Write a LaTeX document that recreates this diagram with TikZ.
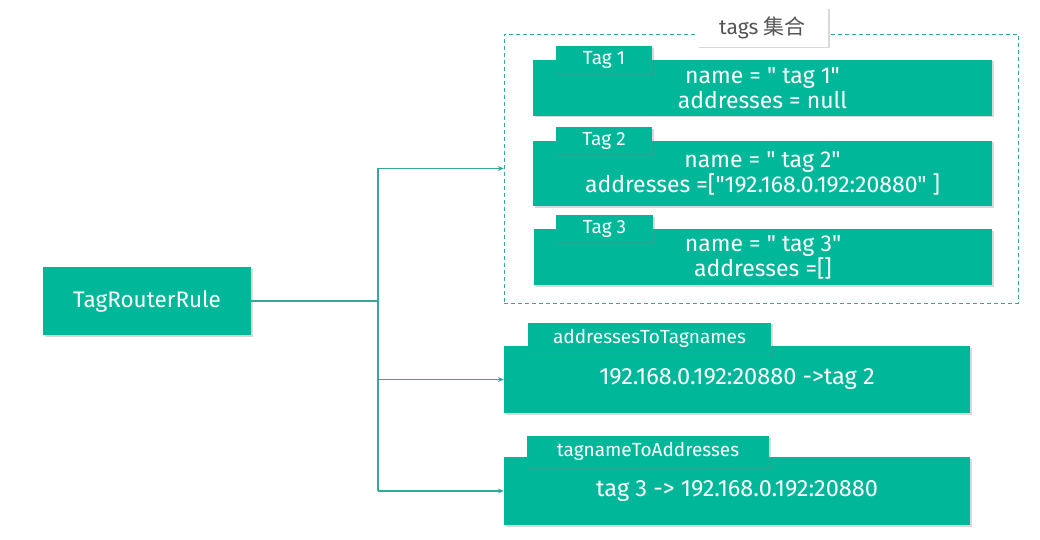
\documentclass[tikz,border=0pt]{standalone}
\usepackage{fontspec}
\setmainfont{Fira Sans}[Ligatures=TeXOff]
\newfontfamily\cjk{Noto Sans CJK SC}
\usepackage{xcolor}
\usepackage{tikz}
\usetikzlibrary{arrows.meta,positioning,shadows}
\definecolor{RuleTeal}{HTML}{00B899}
\definecolor{LinkTeal}{HTML}{35A898}
\definecolor{TitleGray}{HTML}{555555}

\begin{document}
\begin{tikzpicture}[
  x=1pt, y=-1pt,
  box/.style={fill=RuleTeal, text=white, align=center, inner sep=0pt,
    font=\fontsize{23}{25}\selectfont,
    drop shadow={shadow xshift=1.5pt, shadow yshift=-1.5pt, opacity=0.3}},
  mapbox/.style={box, minimum width=466pt, font=\fontsize{23.5}{26}\selectfont},
  tab/.style={box, anchor=west, minimum height=27pt, font=\fontsize{19}{21}\selectfont},
  title/.style={fill=white, text=TitleGray, minimum width=131pt, minimum height=39pt,
    font=\fontsize{21}{23}\selectfont,
    drop shadow={shadow xshift=1.5pt, shadow yshift=-1.5pt, opacity=0.3}},
  group/.style={draw=LinkTeal, dashed, dash pattern=on 4pt off 3pt, thin},
  link/.style={draw=LinkTeal, line width=1.3pt},
  arrow/.style={link, -{Stealth[length=6pt, width=5pt]}}
]
\useasboundingbox (0,0) rectangle (1040,540);

% tags set
\node[group, minimum width=514pt, minimum height=269pt] (tagset) at (761,168.5) {};
\node[title] (settitle) at (762.5,27.5) {tags {\cjk 集合}};

\node[box, minimum width=459pt, minimum height=56pt] (tag1) at (762.5,88) {name = " tag 1"\\addresses = null};
\node[tab, minimum width=96pt] (tab1) at ([xshift=23pt]tag1.north west) {Tag 1};

\node[box, minimum width=459pt, minimum height=65pt] (tag2) at (762.5,173.5) {name = " tag 2"\\addresses =["192.168.0.192:20880" ]};
\node[tab, minimum width=96pt] (tab2) at ([xshift=23pt]tag2.north west) {Tag 2};

\node[box, minimum width=458pt, minimum height=56pt] (tag3) at (763,257) {name = " tag 3"\\addresses =[]};
\node[tab, minimum width=97pt] (tab3) at ([xshift=22pt]tag3.north west) {Tag 3};

% maps
\node[mapbox, minimum height=67pt] (addrmap) at (737,379.5) {192.168.0.192:20880 ->tag 2};
\node[tab, minimum width=243pt, minimum height=32pt] (addrtab) at ([xshift=24pt,yshift=7pt]addrmap.north west) {addressesToTagnames};

\node[mapbox, minimum height=68pt] (tagmap) at (737,491) {tag 3 -> 192.168.0.192:20880};
\node[tab, minimum width=242pt, minimum height=31pt] (tagtab) at ([xshift=23pt,yshift=5pt]tagmap.north west) {tagnameToAddresses};

% rule
\node[box, minimum width=208pt, minimum height=68pt, font=\fontsize{22.5}{25}\selectfont] (rule) at (147,301) {TagRouterRule};

\coordinate (split) at (378,301);
\draw[link] (rule.east) -- (split);
\draw[link] (split |- tagset.west) -- (split |- tagmap.west);
\draw[arrow] (split |- tagset.west) -- (tagset.west);
\draw[arrow] (split |- addrmap.west) -- (addrmap.west);
\draw[arrow] (split |- tagmap.west) -- (tagmap.west);
\end{tikzpicture}
\end{document}
